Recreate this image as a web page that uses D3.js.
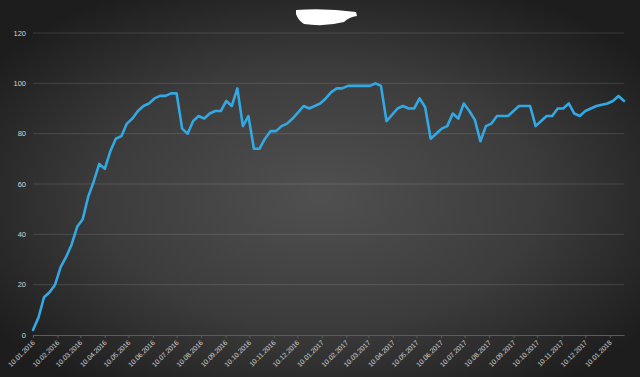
<!DOCTYPE html>
<html>
<head>
<meta charset="utf-8">
<script src="https://cdn.jsdelivr.net/npm/d3@7"></script>
<style>
  html, body { margin: 0; padding: 0; background: #262626; }
  svg { display: block; }
</style>
</head>
<body>
<div id="chart"></div>
<script>
// weekly readings, first week starts 10.01.2016
const firstWeek = "10.01.2016"
const values = [
  2, 7, 15, 17, 20, 27, 31, 36, 43, 46,
  55, 61, 68, 66, 73, 78, 79, 84, 86, 89,
  91, 92, 94, 95, 95, 96, 96, 82, 80, 85,
  87, 86, 88, 89, 89, 93, 91, 98, 83, 87,
  74, 74, 78, 81, 81, 83, 84, 86, 88.5, 91,
  90, 91, 92, 94, 96.5, 98, 98, 99, 99, 99,
  99, 99, 100, 99, 85, 87.5, 90, 91, 90, 90,
  94, 90.5, 78, 80, 82, 83, 88, 86, 92, 89,
  85.5, 77, 83, 84, 87, 87, 87, 89, 91, 91,
  91, 83, 85, 87, 87, 90, 90, 92, 88, 87,
  89, 90, 91, 91.5, 92, 93, 95, 93
]
const yTicks = [0, 20, 40, 60, 80, 100, 120]
const xTickLabels = [
  "10.01.2016", "10.02.2016", "10.03.2016", "10.04.2016", "10.05.2016",
  "10.06.2016", "10.07.2016", "10.08.2016", "10.09.2016", "10.10.2016",
  "10.11.2016", "10.12.2016", "10.01.2017", "10.02.2017", "10.03.2017",
  "10.04.2017", "10.05.2017", "10.06.2017", "10.07.2017", "10.08.2017",
  "10.09.2017", "10.10.2017", "10.11.2017", "10.12.2017", "10.01.2018"
]

let width = 640
let height = 377
let margin = {top: 33, right: 16, bottom: 42, left: 33}

let parse = d3.timeParse("%d.%m.%Y")
let start = parse(firstWeek)
let data = values.map(function(v, i) { return {date: d3.timeWeek.offset(start, i), value: v} })

let svg = d3.select("#chart").append("svg")
  .attr("width", width)
  .attr("height", height)

let defs = svg.append("defs")
let grad = defs.append("radialGradient")
  .attr("id", "bg")
  .attr("cx", "50%").attr("cy", "52%").attr("r", "62%")
grad.append("stop").attr("offset", "0%").attr("stop-color", "#505050")
grad.append("stop").attr("offset", "55%").attr("stop-color", "#3c3c3c")
grad.append("stop").attr("offset", "100%").attr("stop-color", "#1d1d1d")

svg.append("rect").attr("width", width).attr("height", height).attr("fill", "url(#bg)")

// redacted title blob
svg.append("path")
  .attr("d", "M296,10 Q326,8 356,12 L357,16 Q349,17 344,22 Q325,27 304,24 Q298,20 296,14 Z")
  .attr("fill", "#ffffff")

let x = d3.scaleTime()
  .domain([start, data[data.length - 1].date])
  .range([margin.left, width - margin.right])

let y = d3.scaleLinear()
  .domain([0, 120])
  .range([height - margin.bottom, margin.top])

// gridlines
svg.append("g")
  .selectAll("line")
  .data(yTicks.filter(function(d) { return d > 0 }))
  .enter().append("line")
  .attr("x1", margin.left)
  .attr("x2", width - margin.right)
  .attr("y1", function(d) { return y(d) })
  .attr("y2", function(d) { return y(d) })
  .attr("stroke", "rgba(255,255,255,0.13)")
  .attr("stroke-width", 1)

// y labels
svg.append("g")
  .selectAll("text")
  .data(yTicks)
  .enter().append("text")
  .attr("x", 26)
  .attr("y", function(d) { return y(d) })
  .attr("dy", "0.35em")
  .attr("text-anchor", "end")
  .attr("font-family", "Liberation Sans, Arial, sans-serif")
  .attr("font-size", "7.5px")
  .attr("fill", "#d4d4d4")
  .text(function(d) { return d })

// x axis
let xAxis = svg.append("g")
  .attr("transform", "translate(0," + y(0) + ")")
  .call(d3.axisBottom(x)
    .tickValues(xTickLabels.map(parse))
    .tickFormat(d3.timeFormat("%d.%m.%Y"))
    .tickSizeInner(3)
    .tickSizeOuter(0))
xAxis.select(".domain").attr("stroke", "#5c5c5c")
xAxis.selectAll(".tick line").attr("stroke", "#5c5c5c")
xAxis.selectAll(".tick text")
  .attr("font-family", "Liberation Sans, Arial, sans-serif")
  .attr("font-size", "6.9px")
  .attr("fill", "#d4d4d4")
  .attr("text-anchor", "end")
  .attr("dy", null)
  .attr("y", 0)
  .attr("transform", "translate(2,8) rotate(-45)")

// the line
let line = d3.line()
  .x(function(d) { return x(d.date) })
  .y(function(d) { return y(d.value) })

svg.append("path")
  .datum(data)
  .attr("fill", "none")
  .attr("stroke", "#33a8e2")
  .attr("stroke-width", 2.6)
  .attr("stroke-linejoin", "round")
  .attr("stroke-linecap", "round")
  .attr("d", line)
</script>
</body>
</html>
